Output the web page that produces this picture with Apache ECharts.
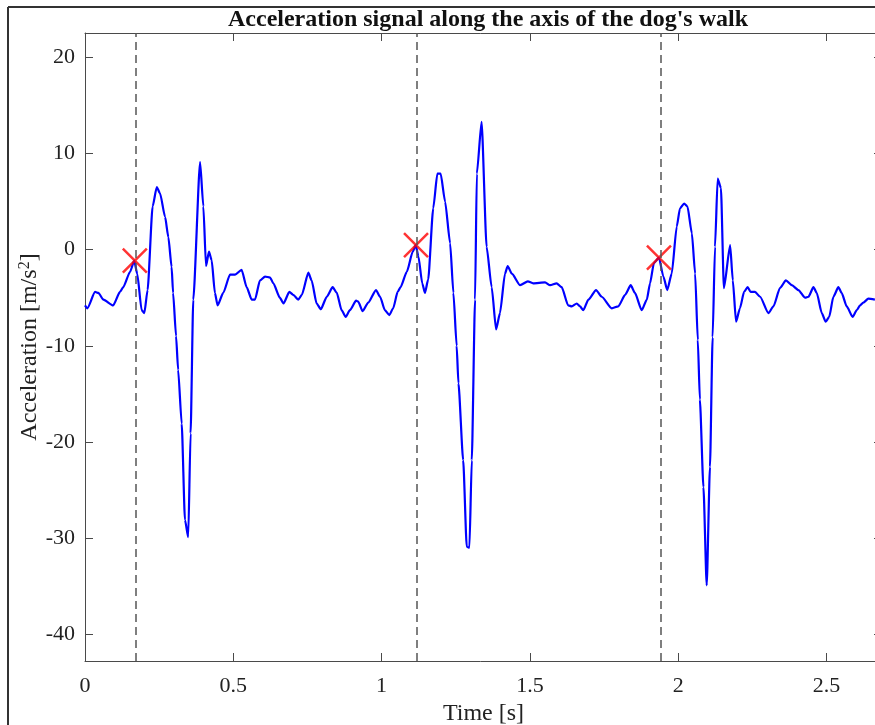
<!DOCTYPE html>
<html>
<head>
<meta charset="utf-8">
<title>Acceleration signal along the axis of the dog's walk</title>
<script src="https://cdn.jsdelivr.net/npm/echarts@6/dist/echarts.min.js"></script>
<style>
  html, body { margin: 0; padding: 0; background: #fff; }
  #chart { width: 875px; height: 725px; }
</style>
</head>
<body>
<div id="chart"></div>
<script>
// time axis of the sampled signal (s)
var timeSec = [
  0.000, 0.008, 0.034, 0.045, 0.062, 0.095, 0.118, 0.129, 0.152, 0.166,
  0.176, 0.191, 0.200, 0.211, 0.228, 0.242, 0.253, 0.270, 0.281, 0.292,
  0.297, 0.307, 0.314, 0.326, 0.337, 0.348, 0.356, 0.365, 0.388, 0.399,
  0.408, 0.418, 0.427, 0.438, 0.447, 0.466, 0.489, 0.506, 0.528, 0.545,
  0.562, 0.573, 0.590, 0.607, 0.624, 0.635, 0.657, 0.669, 0.689, 0.702,
  0.719, 0.731, 0.753, 0.764, 0.781, 0.795, 0.815, 0.835, 0.849, 0.865,
  0.879, 0.893, 0.914, 0.921, 0.936, 0.955, 0.981, 0.995, 1.011, 1.026,
  1.039, 1.054, 1.064, 1.085, 1.105, 1.115, 1.124, 1.137, 1.146, 1.157,
  1.174, 1.188, 1.199, 1.214, 1.231, 1.242, 1.253, 1.259, 1.275, 1.287,
  1.296, 1.304, 1.315, 1.321, 1.337, 1.354, 1.371, 1.386, 1.399, 1.416,
  1.425, 1.439, 1.467, 1.493, 1.511, 1.551, 1.568, 1.590, 1.607, 1.629,
  1.641, 1.658, 1.669, 1.680, 1.697, 1.723, 1.742, 1.776, 1.798, 1.821,
  1.840, 1.854, 1.877, 1.894, 1.905, 1.918, 1.935, 1.950, 1.963, 1.978,
  1.995, 2.006, 2.020, 2.031, 2.046, 2.057, 2.066, 2.073, 2.085, 2.096,
  2.107, 2.116, 2.124, 2.133, 2.144, 2.154, 2.175, 2.184, 2.195, 2.208,
  2.222, 2.234, 2.244, 2.259, 2.276, 2.304, 2.321, 2.343, 2.363, 2.383,
  2.405, 2.428, 2.439, 2.456, 2.467, 2.484, 2.497, 2.509, 2.523, 2.540,
  2.551, 2.568, 2.588, 2.602, 2.613, 2.624, 2.641, 2.663
];
// acceleration along the walking axis (m/s^2)
var accel = [
  -5.8, -6.1, -4.4, -4.5, -5.2, -5.8, -4.4, -3.9, -2.3, -1.15,
  -2.5, -6.3, -6.6, -4.2, 4.5, 6.5, 5.85, 3.4, 1.3, -1.8,
  -4.5, -9.0, -12.5, -18.1, -28.1, -29.9, -19.1, -5.2, 9.1, 4.5,
  -1.7, -0.2, -1.1, -4.5, -5.8, -4.5, -2.6, -2.6, -2.1, -3.9,
  -5.2, -5.2, -3.2, -2.8, -2.9, -3.5, -5.0, -5.6, -4.4, -4.7,
  -5.2, -4.7, -2.4, -3.2, -5.6, -6.2, -4.9, -3.9, -4.5, -6.3,
  -7.0, -6.3, -5.3, -5.4, -6.4, -5.5, -4.2, -4.9, -6.3, -6.8,
  -6.1, -4.4, -3.9, -2.3, -0.2, 0.48, -0.7, -3.5, -4.5, -3.1,
  4.3, 7.9, 7.9, 5.0, 0.65, -4.5, -10.0, -13.9, -21.9, -30.9,
  -31.0, -21.9, -5.2, 7.9, 13.3, 0.3, -3.9, -8.3, -6.6, -2.5,
  -1.7, -2.5, -3.7, -3.3, -3.5, -3.4, -3.7, -3.5, -3.9, -5.8,
  -5.9, -5.6, -5.9, -6.3, -5.2, -4.2, -4.9, -6.1, -5.9, -4.7,
  -3.7, -4.5, -6.3, -5.2, -3.5, -1.4, -0.84, -2.8, -4.2, -2.5,
  2.4, 4.3, 4.8, 4.5, 1.7, -2.5, -9.4, -15.6, -24.7, -34.9,
  -22.6, -9.1, 0.3, 7.4, 6.4, -4.0, 0.48, -3.2, -7.5, -6.1,
  -4.4, -3.9, -4.4, -4.4, -4.9, -6.6, -5.9, -4.0, -3.2, -3.7,
  -4.2, -5.0, -4.9, -3.9, -4.5, -6.6, -7.5, -7.0, -4.9, -3.9,
  -4.5, -5.9, -7.0, -6.3, -5.8, -5.5, -5.1, -5.2
];
// detected step events
var stepTimes = [0.168, 1.116, 1.935];
var stepAccel = [-1.15, 0.48, -0.84];
// tick labels
var xTicks = [0, 0.5, 1, 1.5, 2, 2.5];
var yTicks = [-40, -30, -20, -10, 0, 10, 20];

var X_MIN = 0, X_MAX = 2.687, Y_MIN = -42.78, Y_MAX = 22.53;
var SERIF = '"Liberation Serif", "DejaVu Serif", serif';
var AXIS_COLOR = '#4a4a4a';

var chart = echarts.init(document.getElementById('chart'), null, { renderer: 'canvas' });

var signalData = timeSec.map(function (t, i) { return [t, accel[i]]; });
var stepData = stepTimes.map(function (t, i) { return [t, stepAccel[i]]; });
var stepLines = stepTimes.map(function (t) { return { xAxis: t }; });

function xAxisDef(pos, labels) {
  return {
    type: 'value', position: pos, min: X_MIN, max: X_MAX,
    splitLine: { show: false },
    axisLine: { show: true, onZero: false, lineStyle: { color: AXIS_COLOR, width: 1 } },
    axisTick: { show: true, inside: true, length: 8, customValues: xTicks, lineStyle: { color: AXIS_COLOR } },
    axisLabel: {
      show: labels, customValues: xTicks, margin: 14,
      color: '#222', fontFamily: SERIF, fontSize: 22
    }
  };
}
function yAxisDef(pos, labels) {
  return {
    type: 'value', position: pos, min: Y_MIN, max: Y_MAX,
    splitLine: { show: false },
    axisLine: { show: true, onZero: false, lineStyle: { color: AXIS_COLOR, width: 1 } },
    axisTick: { show: true, inside: true, length: 8, customValues: yTicks, lineStyle: { color: AXIS_COLOR } },
    axisLabel: {
      show: labels, customValues: yTicks, margin: 10,
      color: '#222', fontFamily: SERIF, fontSize: 22
    }
  };
}

var xBottom = xAxisDef('bottom', true);
xBottom.name = 'Time [s]';
xBottom.nameLocation = 'middle';
xBottom.nameGap = 39;
xBottom.nameTextStyle = { color: '#222', fontFamily: SERIF, fontSize: 24 };

var yLeft = yAxisDef('left', true);
yLeft.name = 'Acceleration [m/s{sup|2}]';
yLeft.nameLocation = 'middle';
yLeft.nameRotate = 90;
yLeft.nameGap = 42;
yLeft.nameMoveOverlap = false;
yLeft.nameTextStyle = {
  color: '#222', fontFamily: SERIF, fontSize: 24,
  rich: { sup: { fontSize: 16, fontFamily: SERIF, color: '#222', verticalAlign: 'top', padding: [0, 0, 10, 0] } }
};

var option = {
  animation: false,
  backgroundColor: '#fff',
  title: {
    text: "Acceleration signal along the axis of the dog's walk",
    left: 483, textAlign: 'center', top: 3,
    textStyle: { fontFamily: SERIF, fontWeight: 'bold', fontSize: 24, color: '#111' }
  },
  grid: { left: 85, top: 33, width: 797, height: 628, containLabel: false, outerBoundsMode: 'none' },
  xAxis: [xBottom, xAxisDef('top', false)],
  yAxis: [yLeft, yAxisDef('right', false)],
  graphic: [
    { type: 'line', shape: { x1: 8, y1: 7, x2: 8, y2: 725 }, style: { stroke: '#333', lineWidth: 2 }, silent: true },
    { type: 'line', shape: { x1: 8, y1: 7, x2: 875, y2: 7 }, style: { stroke: '#333', lineWidth: 2 }, silent: true }
  ],
  series: [
    {
      name: 'steps', type: 'line', data: [], z: 1,
      markLine: {
        silent: true, symbol: 'none', animation: false,
        label: { show: false },
        lineStyle: { color: '#555', width: 1.5, type: [8, 5] },
        data: stepLines
      }
    },
    {
      name: 'signal', type: 'line', data: signalData, z: 2,
      showSymbol: false, smooth: 0.2, smoothMonotone: 'x',
      lineStyle: { color: '#0000ff', width: 2.2 },
      emphasis: { disabled: true }
    },
    {
      name: 'step events', type: 'scatter', data: stepData, z: 3,
      symbol: 'path://M0,0L10,10M10,0L0,10', symbolSize: 24,
      itemStyle: { color: 'none', borderColor: '#ff0000', borderWidth: 2.5 },
      emphasis: { disabled: true }
    }
  ]
};

chart.setOption(option);
</script>
</body>
</html>
